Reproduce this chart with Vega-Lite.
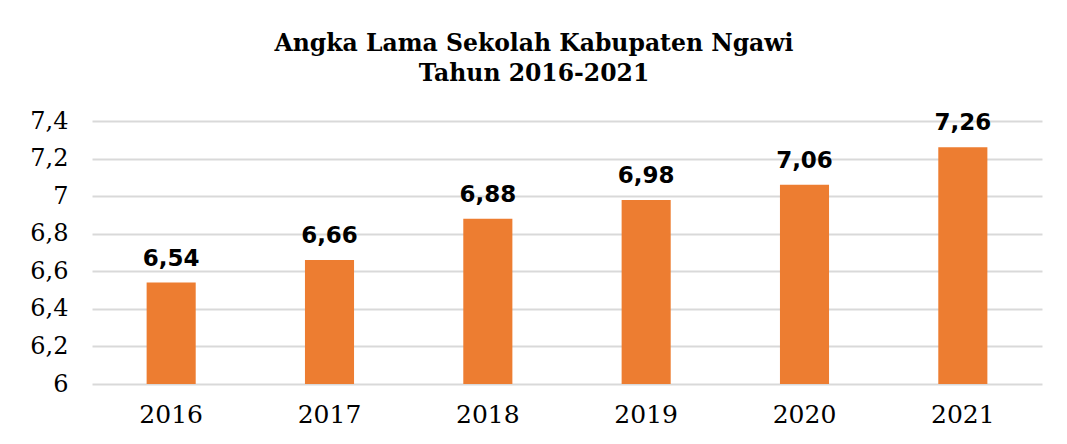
{
  "$schema": "https://vega.github.io/schema/vega-lite/v6.json",
  "width": 950,
  "height": 263,
  "autosize": "none",
  "padding": {"left": 92, "top": 121, "right": 25, "bottom": 60},
  "background": "white",
  "config": {
    "locale": {"number": {"decimal": ",", "thousands": ".", "grouping": [3], "currency": ["Rp", ""]}},
    "view": {"stroke": null}
  },
  "title": {
    "text": ["Angka Lama Sekolah Kabupaten Ngawi", "Tahun 2016-2021"],
    "font": "DejaVu Serif",
    "fontSize": 23.5,
    "fontWeight": "bold",
    "color": "black",
    "anchor": "middle",
    "dx": -33,
    "offset": 24,
    "lineHeight": 30
  },
  "data": {
    "values": [
      {"tahun": "2016", "nilai": 6.54},
      {"tahun": "2017", "nilai": 6.66},
      {"tahun": "2018", "nilai": 6.88},
      {"tahun": "2019", "nilai": 6.98},
      {"tahun": "2020", "nilai": 7.06},
      {"tahun": "2021", "nilai": 7.26}
    ]
  },
  "encoding": {
    "x": {
      "field": "tahun",
      "type": "ordinal",
      "scale": {"paddingInner": 0.69, "paddingOuter": 0.345},
      "axis": {
        "title": null,
        "labelAngle": 0,
        "labelFont": "DejaVu Serif",
        "labelFontSize": 25,
        "labelColor": "black",
        "labelPadding": 18,
        "ticks": false,
        "domain": false
      }
    },
    "y": {
      "field": "nilai",
      "type": "quantitative",
      "scale": {"domain": [6, 7.4], "zero": false, "nice": false},
      "axis": {
        "title": null,
        "values": [6, 6.2, 6.4, 6.6, 6.8, 7, 7.2, 7.4],
        "format": "~g",
        "labelFont": "DejaVu Serif",
        "labelFontSize": 24,
        "labelColor": "black",
        "labelPadding": 24,
        "ticks": false,
        "domain": false,
        "grid": true,
        "gridColor": "#d9d9d9",
        "gridWidth": 2
      }
    }
  },
  "layer": [
    {"mark": {"type": "bar", "color": "#ED7D31", "clip": true}},
    {
      "mark": {
        "type": "text",
        "font": "DejaVu Sans",
        "fontSize": 23,
        "fontWeight": "bold",
        "color": "black",
        "baseline": "alphabetic",
        "dy": -17
      },
      "encoding": {"text": {"field": "nilai", "type": "quantitative", "format": ".2f"}}
    }
  ]
}
